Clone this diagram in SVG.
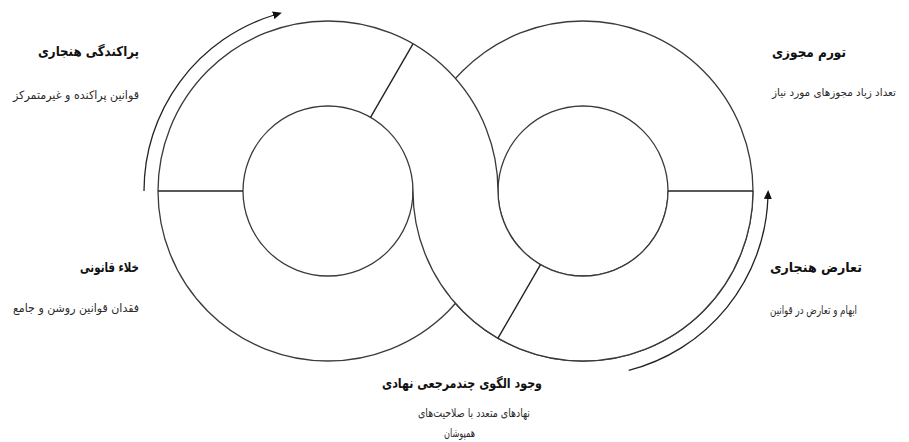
<svg xmlns="http://www.w3.org/2000/svg" width="909" height="442" viewBox="0 0 909 442">
<style>
.ring{fill:#fff;fill-rule:evenodd;stroke:#3a3a3a;stroke-width:1.3}
.div{stroke:#222;stroke-width:1.4;fill:none}
.arr{stroke:#222;stroke-width:1.3;fill:none}
.t{font-family:"DejaVu Sans",sans-serif;font-weight:bold;font-size:13.5px;fill:#111}
.s{font-family:"DejaVu Sans",sans-serif;font-size:11.5px;fill:#2a2a2a}
.s2{font-family:"DejaVu Sans",sans-serif;font-size:10.5px;fill:#2a2a2a}
</style>
<defs>
<marker id="ah" markerWidth="9" markerHeight="8" refX="1" refY="4" orient="auto" markerUnits="userSpaceOnUse">
<path d="M0,0 L9,4 L0,8 z" fill="#111"/>
</marker>
<clipPath id="lower"><rect x="0" y="191" width="909" height="260"/></clipPath>
<g id="rightRingShape">
<path class="ring" d="M753,191 A170,170 0 1 0 413,191 A170,170 0 1 0 753,191 Z M668,191 A85,85 0 1 0 498,191 A85,85 0 1 0 668,191 Z"/>
<line class="div" x1="668" y1="191" x2="753" y2="191"/>
<line class="div" x1="540.5" y1="264.6" x2="498" y2="338.2"/>
</g>
</defs>
<g id="ring-right">
<use href="#rightRingShape"/>
</g>
<g id="ring-left">
<path class="ring" d="M498,191 A170,170 0 1 0 158,191 A170,170 0 1 0 498,191 Z M413,191 A85,85 0 1 0 243,191 A85,85 0 1 0 413,191 Z"/>
<line class="div" x1="158" y1="191" x2="243" y2="191"/>
<line class="div" x1="370.5" y1="117.4" x2="413" y2="43.8"/>
</g>
<g id="ring-right-over" clip-path="url(#lower)">
<use href="#rightRingShape"/>
</g>
<g id="connectors">
<path class="arr" d="M144,191 A184,184 0 0 1 274.2,15" marker-end="url(#ah)"/>
<path class="arr" d="M628.7,370.3 A185,185 0 0 0 767.9,198" marker-end="url(#ah)"/>
</g>
<g id="node-parakandegi">
<text class="t" x="38" y="56" textLength="101" lengthAdjust="spacingAndGlyphs">پراکندگی هنجاری</text>
<text class="s" x="13" y="99" textLength="126" lengthAdjust="spacingAndGlyphs">قوانین پراکنده و غیرمتمرکز</text>
</g>
<g id="node-tavarom">
<text class="t" x="772" y="57" textLength="74" lengthAdjust="spacingAndGlyphs">تورم مجوزی</text>
<text class="s2" x="772" y="96" textLength="124" lengthAdjust="spacingAndGlyphs">تعداد زیاد مجوزهای مورد نیاز</text>
</g>
<g id="node-khala">
<text class="t" x="80" y="272" textLength="59" lengthAdjust="spacingAndGlyphs">خلاء قانونی</text>
<text class="s" x="13" y="312" textLength="126" lengthAdjust="spacingAndGlyphs">فقدان قوانین روشن و جامع</text>
</g>
<g id="node-taarooz">
<text class="t" x="770" y="272" textLength="92" lengthAdjust="spacingAndGlyphs">تعارض هنجاری</text>
<text class="s" x="770" y="314" textLength="87" lengthAdjust="spacingAndGlyphs">ابهام و تعارض در قوانین</text>
</g>
<g id="node-vojood">
<text class="t" x="382" y="388" textLength="160" lengthAdjust="spacingAndGlyphs">وجود الگوی چندمرجعی نهادی</text>
<text class="s" x="418" y="417" textLength="112" lengthAdjust="spacingAndGlyphs">نهادهای متعدد با صلاحیت‌های</text>
<text class="s" x="444" y="437" textLength="31" lengthAdjust="spacingAndGlyphs">همپوشان</text>
</g>
</svg>
